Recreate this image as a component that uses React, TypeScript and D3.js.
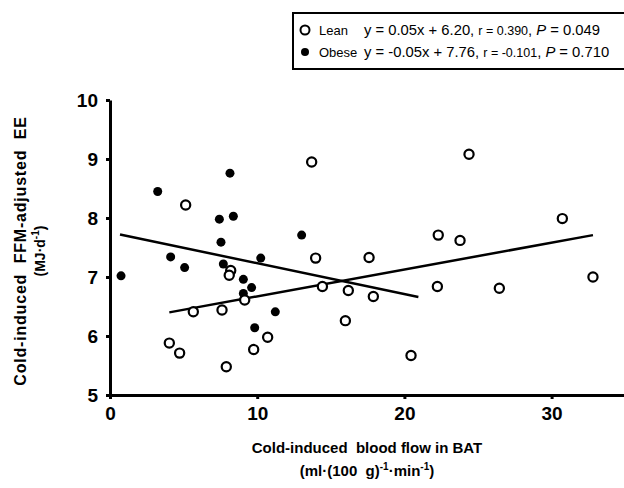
import { useEffect, useRef } from "react";
import * as d3 from "d3";

// values
const leanX = [13.7, 24.39, 5.14, 30.73, 22.3, 23.78, 13.97, 17.6, 8.2, 8.1, 32.81, 14.43, 22.24, 26.45, 16.19, 17.89, 9.15, 7.61, 5.66, 15.99, 10.71, 4.03, 9.76, 4.73, 20.45, 7.9];
const leanY = [8.95, 9.08, 8.22, 7.99, 7.71, 7.62, 7.32, 7.33, 7.11, 7.03, 7.0, 6.84, 6.84, 6.81, 6.77, 6.67, 6.61, 6.44, 6.41, 6.26, 5.98, 5.88, 5.77, 5.71, 5.67, 5.48];
const obeseX = [3.24, 8.15, 7.43, 8.38, 13.02, 7.54, 4.12, 10.24, 7.7, 5.07, 0.75, 9.06, 9.62, 9.06, 11.23, 9.83];
const obeseY = [8.45, 8.76, 7.98, 8.03, 7.71, 7.59, 7.34, 7.32, 7.22, 7.16, 7.02, 6.96, 6.82, 6.72, 6.41, 6.14];

// regression lines as drawn: [slope, intercept, xStart, xEnd]
const leanFit = [0.0455, 6.217, 4.03, 32.81];
const obeseFit = [-0.0523, 7.756, 0.68, 20.95];

const xTicks = [0, 10, 20, 30];
const yTicks = [5, 6, 7, 8, 9, 10];

const FONT = "Arial, 'Liberation Sans', sans-serif";
const SP = "\u00a0"; // wide gaps in the titles

export default function App() {
  const gx = useRef<SVGGElement>(null);
  const gy = useRef<SVGGElement>(null);

  const x = d3.scaleLinear().domain([0, 35]).range([110, 625.2]);
  const y = d3.scaleLinear().domain([5, 10]).range([395, 100]);

  useEffect(() => {
    document.body.style.margin = "0";
    const styleAxis = (g: any) => {
      g.select(".domain").attr("stroke-width", 3);
      g.selectAll(".tick line").attr("stroke-width", 3);
      g.selectAll(".tick text")
        .attr("font-family", FONT)
        .attr("font-weight", "bold")
        .attr("font-size", 19)
        .attr("fill", "#000");
    };
    d3.select(gx.current!)
      .call(d3.axisBottom(x).tickValues(xTicks).tickSize(4).tickSizeOuter(0).tickPadding(8).tickFormat(d3.format("d")) as any)
      .call(styleAxis);
    d3.select(gy.current!)
      .call(d3.axisLeft(y).tickValues(yTicks).tickSize(4).tickSizeOuter(0).tickPadding(8).tickFormat(d3.format("d")) as any)
      .call(styleAxis);
  }, []);

  const fitLine = (f: number[]) =>
    d3.line<number>().x(v => x(v)).y(v => y(f[0] * v + f[1]))([f[2], f[3]]) || "";

  return (
    <svg width={624} height={488} style={{ display: "block", background: "#fff" }}>
      {/* legend */}
      <g fontFamily={FONT} fill="#000">
        <rect x={293} y={13} width={340} height={56} fill="none" stroke="#000" strokeWidth={2} />
        <circle cx={305} cy={30} r={4.5} fill="#fff" stroke="#000" strokeWidth={2} />
        <circle cx={305} cy={52} r={4} fill="#000" />
        <text x={319} y={35} fontSize={13}>Lean</text>
        <text x={319} y={57} fontSize={13}>Obese</text>
        <text x={364} y={35} fontSize={14.8}>
          y = 0.05x + 6.20, <tspan fontSize={12.5}>r = 0.390</tspan>, <tspan fontStyle="italic">P</tspan> = 0.049
        </text>
        <text x={364} y={57} fontSize={14.8}>
          y = -0.05x + 7.76, <tspan fontSize={12.5}>r = -0.101</tspan>, <tspan fontStyle="italic">P</tspan> = 0.710
        </text>
      </g>

      <g ref={gx} transform={`translate(0,${y(5)})`} />
      <g ref={gy} transform={`translate(${x(0)},0)`} />

      {/* regression lines */}
      <path d={fitLine(leanFit)} stroke="#000" strokeWidth={2.5} fill="none" />
      <path d={fitLine(obeseFit)} stroke="#000" strokeWidth={2.5} fill="none" />

      {obeseX.map((v, i) => (
        <circle key={"o" + i} cx={x(v)} cy={y(obeseY[i])} r={4.5} fill="#000" />
      ))}
      {leanX.map((v, i) => (
        <circle key={"l" + i} cx={x(v)} cy={y(leanY[i])} r={4.6} fill="#fff" stroke="#000" strokeWidth={2.2} />
      ))}

      {/* axis titles */}
      <g fontFamily={FONT} fontWeight="bold" fill="#000" textAnchor="middle">
        <text x={367} y={453} fontSize={15}>{`Cold-induced ${SP}blood flow in BAT`}</text>
        <text x={367} y={476} fontSize={15}>
          {`(ml·(100 ${SP}g)`}<tspan dy={-6} fontSize={10}>-1</tspan><tspan dy={6}>·min</tspan><tspan dy={-6} fontSize={10}>-1</tspan><tspan dy={6}>)</tspan>
        </text>
        <text transform="translate(26,251) rotate(-90)" fontSize={16} letterSpacing={0.8}>{`Cold-induced ${SP}FFM-adjusted ${SP}EE`}</text>
        <text transform="translate(45,251) rotate(-90)" fontSize={14}>
          (MJ·d<tspan dy={-6} fontSize={10}>-1</tspan><tspan dy={6}>)</tspan>
        </text>
      </g>
    </svg>
  );
}
